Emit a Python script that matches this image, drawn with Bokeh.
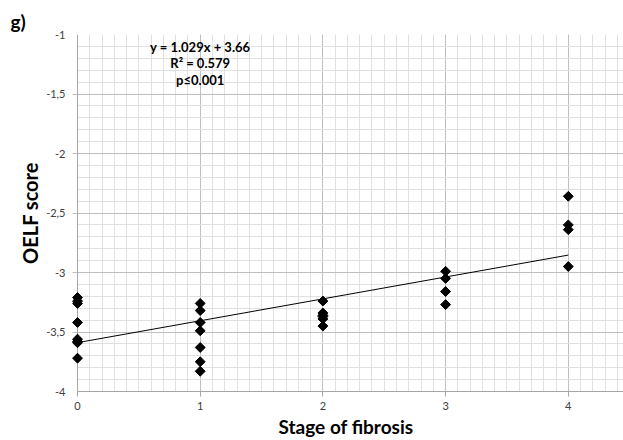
import numpy as np
from bokeh.plotting import figure
from bokeh.models import (Range1d, FixedTicker, Label, ColumnDataSource, BoxAnnotation,
                          Span, Grid)
from bokeh.embed import file_html
from bokeh.resources import INLINE

# ---- data ----
stage_0 = [-3.21, -3.24, -3.26, -3.42, -3.56, -3.58, -3.59, -3.72]
stage_1 = [-3.26, -3.32, -3.42, -3.49, -3.63, -3.75, -3.83]
stage_2 = [-3.24, -3.34, -3.36, -3.37, -3.39, -3.45]
stage_3 = [-2.99, -3.05, -3.16, -3.27]
stage_4 = [-2.36, -2.60, -2.64, -2.95]
stages = [0, 1, 2, 3, 4]
x_ticks = [0, 1, 2, 3, 4]
y_ticks = [-4, -3.5, -3, -2.5, -2, -1.5, -1]
y_tick_labels = ["-4", "-3,5", "-3", "-2,5", "-2", "-1,5", "-1"]
annotation = ["y = 1.029x + 3.66", "R\u00b2 = 0.579", "p\u22640.001"]
panel_label = "g)"
x_title = "Stage of fibrosis"
y_title = "OELF score"

xs, ys = [], []
for s, vals in zip(stages, [stage_0, stage_1, stage_2, stage_3, stage_4]):
    xs += [s] * len(vals)
    ys += vals
xs = np.array(xs, dtype=float)
ys = np.array(ys, dtype=float)
slope, intercept = np.polyfit(xs, ys, 1)
trend_x = np.array([min(stages), max(stages)], dtype=float)
trend_y = slope * trend_x + intercept

FONT = "Lato"
X0 = -0.0735   # small pad left of x=0 so markers on the axis are not clipped
TICK_END = -0.041

p = figure(width=623, height=440, output_backend="svg", toolbar_location=None,
           x_range=Range1d(X0, 4.45), y_range=Range1d(-4, -1),
           min_border_left=68, min_border_right=0, min_border_top=34, min_border_bottom=45)
p.outline_line_color = None

p.title.text = panel_label
p.title.align = "left"
p.title.offset = -58
p.title.text_font = FONT
p.title.text_font_style = "bold"
p.title.text_font_size = "19px"
p.title.text_color = "black"
p.title.standoff = 4

GRID_MAJOR = "#bfbfbf"
GRID_MINOR = "#e0e0e0"

# vertical grid
p.xgrid.ticker = FixedTicker(ticks=x_ticks, minor_ticks=[round(i * 0.1, 2) for i in range(0, 45)])
p.xgrid.grid_line_color = GRID_MAJOR
p.xgrid.minor_grid_line_color = GRID_MINOR

# horizontal minor grid (major drawn separately after the white strip)
p.ygrid.ticker = FixedTicker(ticks=y_ticks, minor_ticks=[round(-4 + i * 0.1, 2) for i in range(0, 31)])
p.ygrid.grid_line_color = None
p.ygrid.minor_grid_line_color = GRID_MINOR

# white strip hiding grid left of x=0
p.add_layout(BoxAnnotation(left=X0, right=0, fill_color="white", fill_alpha=1,
                           line_color=None, level="underlay"))
# major horizontal lines (their stub left of x=0 acts as the outward tick)
p.add_layout(Grid(dimension=1, ticker=FixedTicker(ticks=y_ticks), grid_line_color=GRID_MAJOR,
                  level="underlay"))
p.add_layout(BoxAnnotation(left=X0, right=TICK_END, fill_color="white", fill_alpha=1,
                           line_color=None, level="underlay"))
# y axis line at x = 0
p.add_layout(Span(location=0, dimension="height", line_color="#a6a6a6", line_width=1,
                  level="underlay"))

# axes
p.xaxis.ticker = FixedTicker(ticks=x_ticks)
p.xaxis.bounds = (0, 4.45)
p.yaxis.ticker = FixedTicker(ticks=y_ticks)
p.yaxis.major_label_overrides = {t: l for t, l in zip(y_ticks, y_tick_labels)}
for ax in (p.xaxis, p.yaxis):
    ax.axis_line_color = "#a6a6a6"
    ax.major_tick_line_color = "#a6a6a6"
    ax.major_tick_in = 0
    ax.major_tick_out = 5
    ax.minor_tick_line_color = None
    ax.major_label_text_font = FONT
    ax.major_label_text_font_size = "11px"
    ax.major_label_text_color = "#404040"
p.xaxis.major_label_standoff = 5
p.yaxis.axis_line_color = None
p.yaxis.major_tick_line_color = None
p.yaxis.major_tick_out = 0
p.yaxis.major_label_standoff = 3

p.yaxis.axis_label = y_title
p.yaxis.axis_label_text_font = FONT
p.yaxis.axis_label_text_font_style = "bold"
p.yaxis.axis_label_text_font_size = "20px"
p.yaxis.axis_label_text_color = "#000000"
p.yaxis.axis_label_standoff = 1

p.xaxis.axis_label = x_title
p.xaxis.axis_label_text_font = FONT
p.xaxis.axis_label_text_font_style = "bold"
p.xaxis.axis_label_text_font_size = "19px"
p.xaxis.axis_label_text_color = "#000000"
p.xaxis.axis_label_standoff = 2

# trend line and points
p.line(trend_x, trend_y, line_color="black", line_width=1)
src = ColumnDataSource(dict(x=xs, y=ys))
p.scatter("x", "y", source=src, marker="square", angle=np.pi / 4, size=7,
          fill_color="black", line_color="black")

# annotation
ann_y = [-1.108, -1.241, -1.382]
for txt, yy in zip(annotation, ann_y):
    p.add_layout(Label(x=1.0, y=yy, text=txt, text_align="center", text_baseline="middle",
                       text_font=FONT, text_font_style="bold", text_font_size="13px",
                       text_color="black"))

open("out.html", "w").write(file_html(p, INLINE))
